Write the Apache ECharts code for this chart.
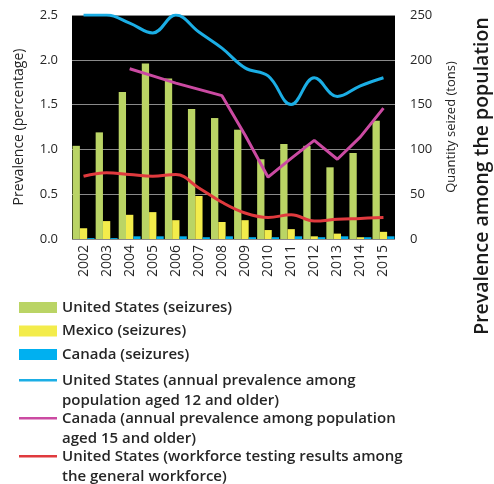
<!DOCTYPE html>
<html>
<head>
<meta charset="utf-8">
<script src="https://cdn.jsdelivr.net/npm/echarts@6/dist/echarts.min.js"></script>
<style>
  html, body { margin: 0; padding: 0; background: #fff; }
  #chart { width: 494px; height: 484px; }
</style>
</head>
<body>
<div id="chart"></div>
<script>
// years on the x axis
const years = ['2002', '2003', '2004', '2005', '2006', '2007', '2008', '2009', '2010', '2011', '2012', '2013', '2014', '2015'];

// seizures, tons (right axis)
const usSeizures = [104, 119, 164, 196, 179, 145, 135, 122, 89, 106, 104, 80, 96, 132];
const mexicoSeizures = [12, 20, 27, 30, 21, 48, 19, 21, 10, 11, 3, 6, 2, 8];
const canadaSeizures = [1, 1, 3, 3, 3, 2, 3, 2, 2, 3, 2, 3, 2, 3];

// prevalence, percent (left axis)
const usPrevalence = [2.5, 2.5, 2.41, 2.3, 2.5, 2.31, 2.13, 1.91, 1.82, 1.5, 1.8, 1.59, 1.71, 1.8];
const canadaPrevalence = [null, null, 1.9, 1.82, 1.74, 1.67, 1.6, 1.16, 0.69, 0.9, 1.1, 0.89, 1.14, 1.46];
const usWorkforce = [0.7, 0.74, 0.72, 0.7, 0.72, 0.57, 0.41, 0.29, 0.24, 0.27, 0.2, 0.22, 0.23, 0.24];

const leftTicks = ['0.0', '0.5', '1.0', '1.5', '2.0', '2.5'];

const barNames = ['United States (seizures)', 'Mexico (seizures)', 'Canada (seizures)'];
const lineNames = [
  'United States (annual prevalence among\npopulation aged 12 and older)',
  'Canada (annual prevalence among population\naged 15 and older)',
  'United States (workforce testing results among\nthe general workforce)'
];

const font = 'Open Sans';
const textColor = '#262626';
// thin line at top of a taller box so it sits on the first text line
const lineIcon = 'path://M0,0h38v2.6h-38z M0,23h38';

const chart = echarts.init(document.getElementById('chart'));

const legendText = { fontFamily: font, fontSize: 15, fontWeight: 600, color: textColor, lineHeight: 20 };

const option = {
  animation: false,
  textStyle: { fontFamily: font },
  grid: {
    left: 72, right: 99, top: 15, bottom: 245,
    show: true, backgroundColor: '#000', borderWidth: 0
  },
  legend: [
    {
      orient: 'vertical', left: 19, top: 297.5, height: 100, padding: 0,
      itemWidth: 38, itemHeight: 11, itemGap: 3.5, itemTextGap: 4,
      selectedMode: false,
      textStyle: legendText,
      data: barNames.map(n => ({ name: n, icon: 'rect' }))
    },
    {
      orient: 'vertical', left: 19, top: 370.5, height: 160, padding: 0,
      itemWidth: 38, itemHeight: 23, itemGap: -2, itemTextGap: 4,
      selectedMode: false,
      itemStyle: { borderWidth: 0 },
      textStyle: legendText,
      data: lineNames.map(n => ({ name: n, icon: lineIcon }))
    }
  ],
  xAxis: {
    type: 'category',
    data: years,
    axisLine: { show: false },
    axisTick: { show: false },
    axisLabel: { rotate: 90, fontSize: 14, color: textColor, margin: 6, fontFamily: font }
  },
  yAxis: [
    {
      type: 'value', min: 0, max: 2.5, interval: 0.5,
      name: 'Prevalence (percentage)', nameLocation: 'middle', nameGap: 46,
      nameTextStyle: { fontSize: 14, color: textColor, fontFamily: font },
      axisLine: { show: false }, axisTick: { show: false },
      axisLabel: {
        fontSize: 13, color: textColor, margin: 14, fontFamily: font,
        formatter: v => leftTicks[Math.round(v / 0.5)]
      },
      splitLine: { lineStyle: { color: '#8a8a8a', width: 1 } }
    },
    {
      type: 'value', min: 0, max: 250, interval: 50,
      name: 'Quantity seized (tons)', nameLocation: 'middle', nameGap: 50,
      nameTextStyle: { fontSize: 13, color: textColor, fontFamily: font },
      axisLine: { show: false }, axisTick: { show: false },
      axisLabel: { fontSize: 13, color: textColor, margin: 15, fontFamily: font },
      splitLine: { show: false }
    }
  ],
  graphic: [
    {
      type: 'text', x: 482, y: 176, rotation: Math.PI / 2,
      style: {
        text: 'Prevalence among the population', fontFamily: font, fontSize: 19.5, fontWeight: 600,
        fill: '#1a1a1a', align: 'center', verticalAlign: 'middle'
      }
    }
  ],
  series: [
    { name: barNames[0], type: 'bar', yAxisIndex: 1, data: usSeizures, itemStyle: { color: '#BAD465' }, barGap: '0%', barCategoryGap: '5%' },
    { name: barNames[1], type: 'bar', yAxisIndex: 1, data: mexicoSeizures, itemStyle: { color: '#F3EC4B' } },
    { name: barNames[2], type: 'bar', yAxisIndex: 1, data: canadaSeizures, itemStyle: { color: '#00B0F0' } },
    { name: lineNames[0], type: 'line', yAxisIndex: 0, data: usPrevalence, smooth: 0.4, showSymbol: false, lineStyle: { color: '#1BAEE5', width: 3 }, itemStyle: { color: '#1BAEE5' } },
    { name: lineNames[1], type: 'line', yAxisIndex: 0, data: canadaPrevalence, showSymbol: false, lineStyle: { color: '#CB4AA2', width: 3 }, itemStyle: { color: '#CB4AA2' } },
    { name: lineNames[2], type: 'line', yAxisIndex: 0, data: usWorkforce, smooth: 0.4, showSymbol: false, lineStyle: { color: '#E03A3E', width: 3 }, itemStyle: { color: '#E03A3E' } }
  ]
};

chart.setOption(option);
</script>
</body>
</html>
